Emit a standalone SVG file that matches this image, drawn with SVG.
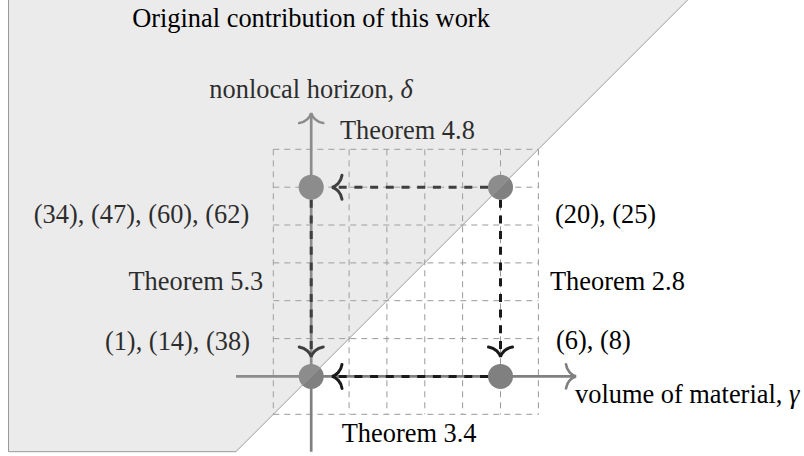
<svg xmlns="http://www.w3.org/2000/svg" width="804" height="456" viewBox="0 0 804 456">
<style>
  text { font-family: "Liberation Serif", "Times New Roman", serif; font-size: 26.4px; fill: #000; }
  .grid { stroke: #999; stroke-width: 1; stroke-dasharray: 6 5; fill: none; }
  .axis { stroke: #808080; stroke-width: 2.7; fill: none; }
  .axhead { stroke: #808080; stroke-width: 2.7; fill: none; stroke-linecap: round; }
  .dash { stroke: #1a1a1a; stroke-width: 3; stroke-dasharray: 8 7.7; fill: none; }
  .head { stroke: #1a1a1a; stroke-width: 3; fill: none; stroke-linecap: round; }
  .node { fill: #808080; }
  .overlay { fill: #b0b0b0; fill-opacity: 0.25; stroke: #999; stroke-width: 1; }
</style>
<defs>
  <path id="tip" d="M -10,-12 C -9,-5 -4,-1 0,0 C -4,1 -9,5 -10,12"/>
</defs>
<rect x="0" y="0" width="804" height="456" fill="#fff"/>

<g id="grid">
  <path class="grid" d="M273.3,149.3H538.4 M273.3,187.2H538.4 M273.3,225H538.4 M273.3,262.9H538.4 M273.3,300.7H538.4 M273.3,338.6H538.4 M273.3,376.4H538.4 M273.3,414.3H538.4"/>
  <path class="grid" d="M273.3,149.3V414.3 M311.2,149.3V414.3 M349.1,149.3V414.3 M386.9,149.3V414.3 M424.8,149.3V414.3 M462.6,149.3V414.3 M500.5,149.3V414.3 M538.4,149.3V414.3"/>
</g>

<g id="axes">
  <path class="axis" d="M311.2,451.7V114"/>
  <use href="#tip" class="axhead" transform="translate(311.2,113) rotate(-90)"/>
  <path class="axis" d="M236,376.4H575"/>
  <use href="#tip" class="axhead" transform="translate(576,376.4)"/>
</g>

<g id="connectors">
  <path class="dash" d="M488,187.2H334"/>
  <use href="#tip" class="head" transform="translate(332,187.2) rotate(180)"/>
  <path class="dash" d="M311.2,199.7V355"/>
  <use href="#tip" class="head" transform="translate(311.2,357) rotate(90)"/>
  <path class="dash" d="M500.5,199.7V355"/>
  <use href="#tip" class="head" transform="translate(500.5,357) rotate(90)"/>
  <path class="dash" d="M488,376.4H334"/>
  <use href="#tip" class="head" transform="translate(332,376.4) rotate(180)"/>
</g>

<g id="node-delta-only"><circle class="node" cx="311.2" cy="187.2" r="12.5"/></g>
<g id="node-delta-gamma"><circle class="node" cx="500.5" cy="187.2" r="12.5"/></g>
<g id="node-origin"><circle class="node" cx="311.2" cy="376.4" r="12.5"/></g>
<g id="node-gamma-only"><circle class="node" cx="500.5" cy="376.4" r="12.5"/></g>

<g id="labels">
  <text x="209.3" y="98.3">nonlocal horizon, <tspan font-style="italic">δ</tspan></text>
  <text x="340" y="139.3">Theorem 4.8</text>
  <text x="249.3" y="223" text-anchor="end">(34), (47), (60), (62)</text>
  <text x="263.3" y="290" text-anchor="end">Theorem 5.3</text>
  <text x="250" y="350" text-anchor="end">(1), (14), (38)</text>
  <text x="555" y="223">(20), (25)</text>
  <text x="550" y="290">Theorem 2.8</text>
  <text x="556" y="349">(6), (8)</text>
  <text x="341.7" y="441.7">Theorem 3.4</text>
  <text x="575" y="403">volume of material, <tspan font-style="italic">γ</tspan></text>
</g>

<g id="region">
  <polygon class="overlay" points="8.5,-5 692.6,-5 235.9,451.7 8.5,451.7"/>
  <text x="311" y="27" text-anchor="middle">Original contribution of this work</text>
</g>
</svg>
